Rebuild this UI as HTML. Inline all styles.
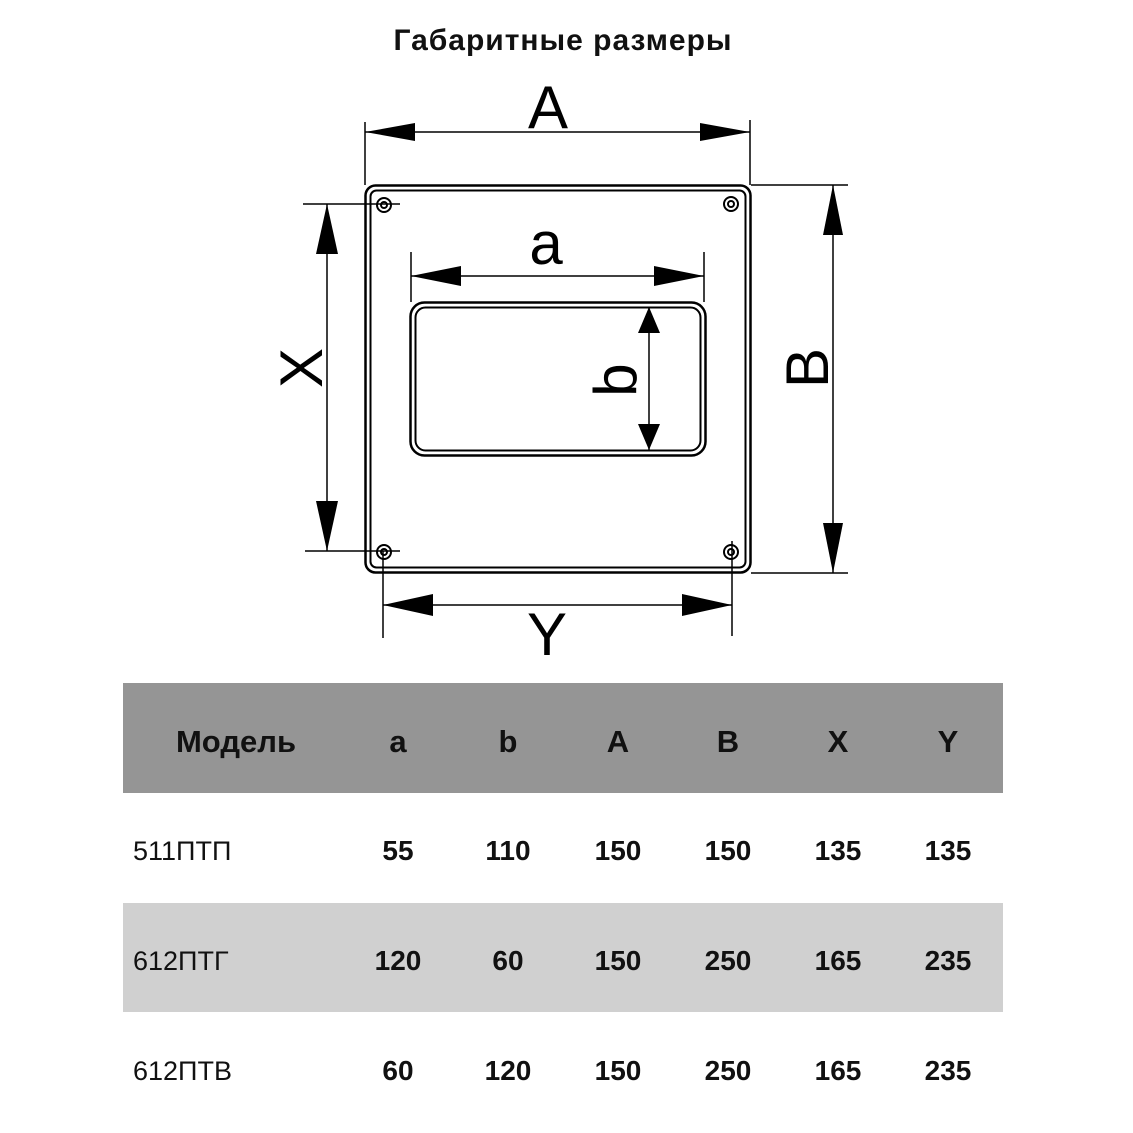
<!DOCTYPE html>
<html><head><meta charset="utf-8"><style>
body{margin:0;background:#fff;width:1133px;height:1133px;overflow:hidden;font-family:"Liberation Sans",sans-serif}
</style></head><body>
<svg width="1133" height="1133" viewBox="0 0 1133 1133" xmlns="http://www.w3.org/2000/svg" style="position:absolute;left:0;top:0">
<text x="563" y="50" text-anchor="middle" font-family="Liberation Sans, sans-serif" font-weight="bold" font-size="30" letter-spacing="1" fill="#111">Габаритные размеры</text>
<g stroke="#000" fill="none">
<rect x="365.5" y="185.5" width="385" height="387" rx="10" stroke-width="2.5"/>
<rect x="370.5" y="190.5" width="375" height="377" rx="6" stroke-width="2"/>
<rect x="410.5" y="302.5" width="295" height="153" rx="14" stroke-width="2.5"/>
<rect x="415.5" y="307.5" width="285" height="143" rx="10" stroke-width="2"/>
<g stroke-width="2">
<circle cx="384" cy="205" r="7"/><circle cx="384" cy="205" r="3"/>
<circle cx="731" cy="204" r="7"/><circle cx="731" cy="204" r="3"/>
<circle cx="384" cy="552" r="7"/><circle cx="384" cy="552" r="3"/>
<circle cx="731" cy="552" r="7"/><circle cx="731" cy="552" r="3"/>
</g>
<g stroke-width="1.5">
<line x1="365" y1="122" x2="365" y2="185"/><line x1="750" y1="120" x2="750" y2="185"/>
<line x1="365" y1="132" x2="750" y2="132"/>
<line x1="411" y1="252" x2="411" y2="302"/><line x1="704" y1="252" x2="704" y2="302"/>
<line x1="411" y1="276" x2="704" y2="276"/>
<line x1="751" y1="185" x2="848" y2="185"/><line x1="751" y1="573" x2="848" y2="573"/>
<line x1="833" y1="185" x2="833" y2="573"/>
<line x1="303" y1="204" x2="400" y2="204"/><line x1="305" y1="551" x2="400" y2="551"/>
<line x1="327" y1="204" x2="327" y2="551"/>
<line x1="383" y1="551" x2="383" y2="638"/><line x1="732" y1="541" x2="732" y2="636"/>
<line x1="383" y1="605" x2="732" y2="605"/>
<line x1="649" y1="307" x2="649" y2="450"/>
</g>
</g>
<g fill="#000">
<polygon points="365,132 415,123 415,141"/><polygon points="750,132 700,123 700,141"/>
<polygon points="411,276 461,266 461,286"/><polygon points="704,276 654,266 654,286"/>
<polygon points="833,185 823,235 843,235"/><polygon points="833,573 823,523 843,523"/>
<polygon points="327,204 316,254 338,254"/><polygon points="327,551 316,501 338,501"/>
<polygon points="383,605 433,594 433,616"/><polygon points="732,605 682,594 682,616"/>
<polygon points="649,307 638,333 660,333"/><polygon points="649,450 638,424 660,424"/>
</g>
<g font-family="Liberation Sans, sans-serif" font-size="60" fill="#000" text-anchor="middle">
<text x="548" y="128">A</text>
<text x="546" y="264">a</text>
<text x="547" y="655">Y</text>
<text transform="translate(828,368) rotate(-90)">B</text>
<text transform="translate(322,368) rotate(-90)">X</text>
<text transform="translate(636,380) rotate(-90)">b</text>
</g>
<rect x="123" y="683" width="880" height="110" fill="#959595"/>
<rect x="123" y="903" width="880" height="109" fill="#d0d0d0"/>
<g font-family="Liberation Sans, sans-serif" font-weight="bold" font-size="31" fill="#111" text-anchor="middle">
<text x="236" y="752">Модель</text>
<text x="398" y="752">a</text><text x="508" y="752">b</text><text x="618" y="752">A</text>
<text x="728" y="752">B</text><text x="838" y="752">X</text><text x="948" y="752">Y</text>
</g>
<g font-family="Liberation Sans, sans-serif" font-size="27" fill="#111">
<text x="133" y="860">511ПТП</text>
<text x="133" y="970">612ПТГ</text>
<text x="133" y="1080">612ПТВ</text>
</g>
<g font-family="Liberation Sans, sans-serif" font-weight="bold" font-size="28" fill="#111" text-anchor="middle">
<text x="398" y="860">55</text><text x="508" y="860">110</text><text x="618" y="860">150</text><text x="728" y="860">150</text><text x="838" y="860">135</text><text x="948" y="860">135</text>
<text x="398" y="970">120</text><text x="508" y="970">60</text><text x="618" y="970">150</text><text x="728" y="970">250</text><text x="838" y="970">165</text><text x="948" y="970">235</text>
<text x="398" y="1080">60</text><text x="508" y="1080">120</text><text x="618" y="1080">150</text><text x="728" y="1080">250</text><text x="838" y="1080">165</text><text x="948" y="1080">235</text>
</g>
</svg>
</body></html>
